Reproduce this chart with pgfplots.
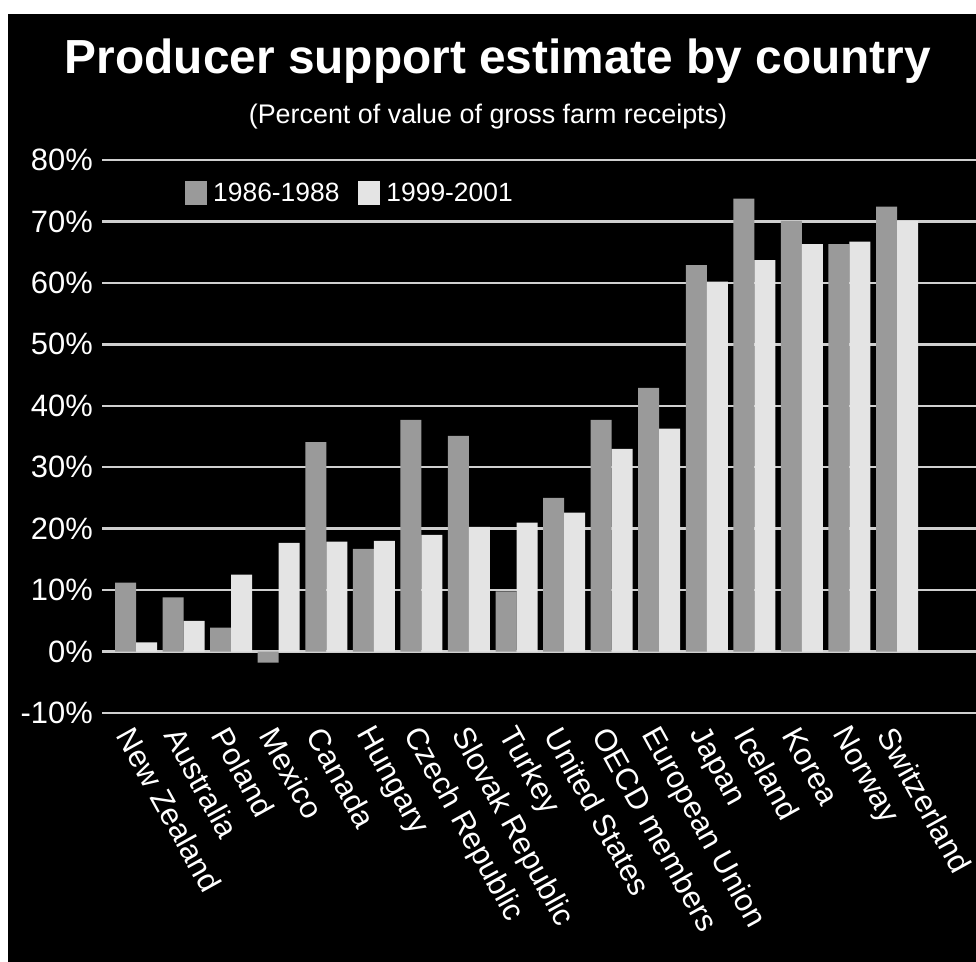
\documentclass[border=0pt]{standalone}
\usepackage{fontspec}
\setmainfont{Liberation Sans}
\usepackage{pgfplots}
\pgfplotsset{compat=1.18}
\definecolor{darkbar}{HTML}{9A9A9A}
\definecolor{lightbar}{HTML}{E4E4E4}
\definecolor{gridc}{HTML}{CFCFCF}
\begin{document}
\begin{tikzpicture}
\fill[white] (0,0) rectangle (976bp,962bp);
\fill[black] (8bp,0) rectangle (976bp,948bp);
\node[anchor=base, text=white, inner sep=0pt, font=\fontsize{48}{48}\selectfont\bfseries] at (498bp,888bp) {Producer support estimate by country};
\node[anchor=base, text=white, inner sep=0pt, font=\fontsize{27}{27}\selectfont] at (488bp,838bp) {(Percent of value of gross farm receipts)};
\begin{axis}[
  at={(102bp,249bp)}, anchor=south west,
  scale only axis, width=874bp, height=553bp,
  xmin=-0.715, xmax=17.66, ymin=-10, ymax=80,
  axis line style={draw=none},
  ybar=0pt, bar width=21bp,
  ytick={-10,0,...,80},
  yticklabels={-10\%,0\%,10\%,20\%,30\%,40\%,50\%,60\%,70\%,80\%},
  xtick={0,...,16},
  xticklabels={New Zealand,Australia,Poland,Mexico,Canada,Hungary,Czech Republic,Slovak Republic,Turkey,United States,OECD members,European Union,Japan,Iceland,Korea,Norway,Switzerland},
  major tick length=0pt,
  ymajorgrids, grid style={gridc, line width=2.5bp},
  clip=false,
  yticklabel style={text=white, font=\fontsize{31}{31}\selectfont, anchor=east, inner sep=0pt, xshift=-9bp},
  xticklabel style={text=white, font=\fontsize{31}{31}\selectfont, inner sep=0pt, xshift=-11bp, yshift=-17bp, rotate=-61, anchor=west},
  legend style={draw=none, fill=none, text=white, font=\fontsize{26.5}{26.5}\selectfont, legend columns=2, at={(0.095,0.94)}, anchor=west, inner sep=0pt, /tikz/every odd column/.append style={column sep=4bp}, /tikz/every even column/.append style={column sep=17bp}},
  legend cell align=left,
  legend image code/.code={\fill[#1] (0bp,-12bp) rectangle (22bp,12bp);},
]
\addplot[fill=darkbar, draw=none] coordinates {(0,11.2) (1,8.8) (2,3.9) (3,-1.8) (4,34.1) (5,16.7) (6,37.7) (7,35.1) (8,9.8) (9,25.0) (10,37.7) (11,42.9) (12,62.9) (13,73.7) (14,70.1) (15,66.3) (16,72.4)};
\addplot[fill=lightbar, draw=none] coordinates {(0,1.5) (1,5.0) (2,12.5) (3,17.7) (4,17.9) (5,18.0) (6,19.0) (7,20.3) (8,21.0) (9,22.6) (10,33.0) (11,36.3) (12,60.2) (13,63.7) (14,66.3) (15,66.7) (16,70.1)};
\legend{1986-1988,1999-2001}
\end{axis}
\pgfresetboundingbox
\path[use as bounding box] (0,0) rectangle (976bp,962bp);
\end{tikzpicture}
\end{document}
